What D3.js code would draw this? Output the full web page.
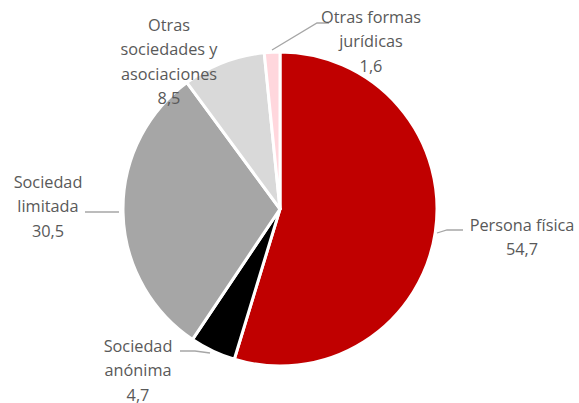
<!DOCTYPE html>
<html><head><meta charset="utf-8">
<script src="https://cdn.jsdelivr.net/npm/d3@7"></script>
<style>html,body{margin:0;padding:0;background:#fff;}</style>
</head><body>
<svg id="c" width="579" height="403"></svg>
<script>
const categories = ["Persona física", "Sociedad anónima", "Sociedad limitada", "Otras sociedades y asociaciones", "Otras formas jurídicas"];
const values = [54.7, 4.7, 30.5, 8.5, 1.6];
const colors = ["#C00000", "#000000", "#A6A6A6", "#D9D9D9", "#FFD7DD"];
const labelLines = [["Persona física", "54,7"], ["Sociedad", "anónima", "4,7"], ["Sociedad", "limitada", "30,5"], ["Otras", "sociedades y", "asociaciones", "8,5"], ["Otras formas", "jurídicas", "1,6"]];
const labelPos = [[522, 225], [138, 346], [48, 182], [169, 25], [371, 17]];
const leaders = [[[437, 233], [447, 230], [463, 230]], [[210, 353], [195, 351], [180, 351]], [[119, 212], [100, 212], [85, 212]], null, [[272, 50], [317, 23], [329, 23]]];

const svg = d3.select("#c");
const cx = 280, cy = 209, r = 157;
const pie = d3.pie().sort(null).value(d => d)(values);
const arc = d3.arc().innerRadius(0).outerRadius(r);
const g = svg.append("g").attr("transform", `translate(${cx},${cy})`);
g.selectAll("path").data(pie).join("path")
  .attr("d", arc).attr("fill", (d, i) => colors[i])
  .attr("stroke", "#fff").attr("stroke-width", 3).attr("stroke-linejoin", "round");

const line = d3.line();
leaders.forEach(l => { if (l) svg.append("path").attr("d", line(l)).attr("fill", "none").attr("stroke", "#A6A6A6").attr("stroke-width", 1.3); });

labelLines.forEach((lines, i) => {
  const t = svg.append("text").attr("text-anchor", "middle")
    .attr("font-family", "'Segoe UI', 'Open Sans', sans-serif").attr("font-size", 16.3).attr("fill", "#595959");
  lines.forEach((s, j) => t.append("tspan").attr("x", labelPos[i][0]).attr("y", labelPos[i][1] + j * 24.5).attr("dy", "0.35em").text(s));
});
</script>
</body></html>
